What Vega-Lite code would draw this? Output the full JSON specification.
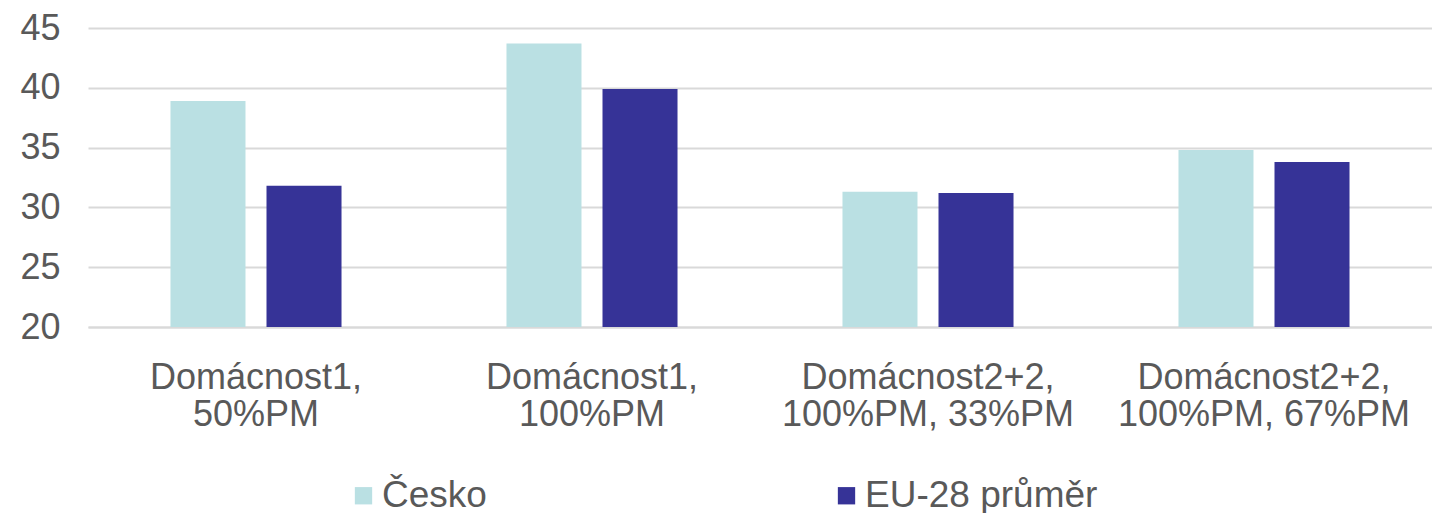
{
  "$schema": "https://vega.github.io/schema/vega-lite/v6.json",
  "width": 1344,
  "height": 299,
  "autosize": {"type": "none"},
  "padding": {"left": 88, "top": 28, "right": 0, "bottom": 186},
  "background": "white",
  "config": {
    "view": {"stroke": null},
    "font": "Liberation Sans",
    "axis": {"labelFont": "Liberation Sans", "labelColor": "#595959"},
    "legend": {"labelFont": "Liberation Sans", "labelColor": "#595959"}
  },
  "data": {
    "values": [
      {"kategorie": "Domácnost1, 50%PM", "serie": "Česko", "hodnota": 38.9},
      {"kategorie": "Domácnost1, 50%PM", "serie": "EU-28 průměr", "hodnota": 31.8},
      {"kategorie": "Domácnost1, 100%PM", "serie": "Česko", "hodnota": 43.7},
      {"kategorie": "Domácnost1, 100%PM", "serie": "EU-28 průměr", "hodnota": 39.9},
      {"kategorie": "Domácnost2+2, 100%PM, 33%PM", "serie": "Česko", "hodnota": 31.3},
      {"kategorie": "Domácnost2+2, 100%PM, 33%PM", "serie": "EU-28 průměr", "hodnota": 31.2},
      {"kategorie": "Domácnost2+2, 100%PM, 67%PM", "serie": "Česko", "hodnota": 34.8},
      {"kategorie": "Domácnost2+2, 100%PM, 67%PM", "serie": "EU-28 průměr", "hodnota": 33.8}
    ]
  },
  "mark": {"type": "bar", "clip": true},
  "encoding": {
    "x": {
      "field": "kategorie",
      "type": "nominal",
      "sort": null,
      "scale": {"paddingInner": 0, "paddingOuter": 0},
      "axis": {
        "title": null,
        "labelAngle": 0,
        "labelFontSize": 36,
        "labelLineHeight": 37,
        "labelPadding": 33,
        "labelLimit": 0,
        "domain": true,
        "domainColor": "#d9d9d9",
        "domainWidth": 2,
        "ticks": false,
        "labelExpr": "[substring(datum.label, 0, indexof(datum.label, ',') + 1), substring(datum.label, indexof(datum.label, ',') + 2)]"
      }
    },
    "xOffset": {
      "field": "serie",
      "type": "nominal",
      "scale": {"domain": ["Česko", "EU-28 průměr"], "paddingInner": 0.21875, "paddingOuter": 0.859}
    },
    "y": {
      "field": "hodnota",
      "type": "quantitative",
      "scale": {"domain": [20, 45], "nice": false, "zero": false},
      "axis": {
        "title": null,
        "values": [20, 25, 30, 35, 40, 45],
        "labelFontSize": 36,
        "labelPadding": 28,
        "domain": false,
        "ticks": false,
        "grid": true,
        "gridColor": "#d9d9d9",
        "gridWidth": 2
      }
    },
    "color": {
      "field": "serie",
      "type": "nominal",
      "scale": {"domain": ["Česko", "EU-28 průměr"], "range": ["#bae0e3", "#363397"]},
      "legend": {
        "title": null,
        "orient": "none",
        "direction": "horizontal",
        "legendX": 257,
        "legendY": 449,
        "columns": 2,
        "columnPadding": 341,
        "symbolType": "square",
        "symbolSize": 300,
        "symbolStrokeWidth": 0,
        "labelFontSize": 37,
        "labelLimit": 0,
        "labelOffset": 0,
        "padding": 0
      }
    }
  }
}
